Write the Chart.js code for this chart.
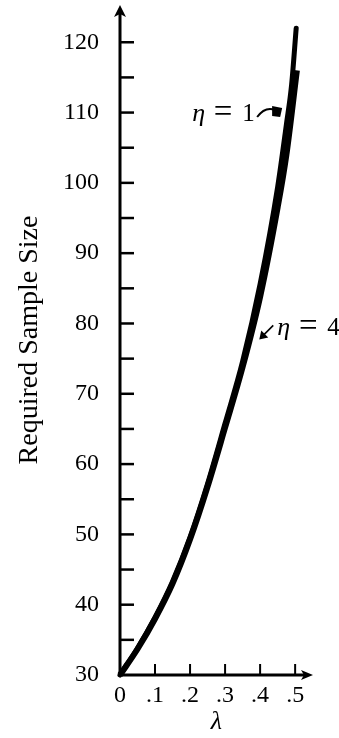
<!DOCTYPE html>
<html>
<head>
<meta charset="utf-8">
<script src="https://cdn.jsdelivr.net/npm/chart.js@4.4.0/dist/chart.umd.min.js"></script>
<style>
  html, body { margin: 0; padding: 0; background: #fff; }
  canvas { display: block; }
</style>
</head>
<body>
<canvas id="sampleChart" width="339" height="738"></canvas>
<script>
// values
const lambdaEta4 = [0, 0.05, 0.10, 0.15, 0.20, 0.25, 0.30, 0.35, 0.40, 0.45, 0.475, 0.505];
const sizeEta4   = [30, 33.7, 38.0, 43.0, 49.3, 56.8, 65.2, 73.8, 83.8, 96.5, 104.0, 116];
const lambdaEta1 = [0, 0.05, 0.10, 0.15, 0.20, 0.25, 0.30, 0.35, 0.40, 0.45, 0.475, 0.49, 0.503];
const sizeEta1   = [30, 33.8, 38.2, 43.3, 49.6, 57.2, 65.8, 74.6, 85.6, 99.4, 108.3, 114.0, 122];
const xTickValues = [0, 0.1, 0.2, 0.3, 0.4, 0.5];
const xTickLabels = ['0', '.1', '.2', '.3', '.4', '.5'];
const yTickValues = [30, 35, 40, 45, 50, 55, 60, 65, 70, 75, 80, 85, 90, 95, 100, 105, 110, 115, 120];

const serif = "'Liberation Serif', 'Times New Roman', serif";

function toPoints(xs, ys) {
  return xs.map((x, i) => ({ x: x, y: ys[i] }));
}

// axes with arrows and inward ticks, drawn from the scales
const axesPlugin = {
  id: 'axesPlugin',
  beforeDatasetsDraw(chart) {
    const ctx = chart.ctx;
    const { left, right, top, bottom } = chart.chartArea;
    const xs = chart.scales.x, ys = chart.scales.y;
    ctx.save();
    ctx.strokeStyle = '#000';
    ctx.fillStyle = '#000';
    ctx.lineWidth = 3;
    ctx.beginPath();
    ctx.moveTo(left, bottom + 1.5);
    ctx.lineTo(left, top + 8);
    ctx.moveTo(left - 1.5, bottom);
    ctx.lineTo(right - 8, bottom);
    ctx.stroke();

    // arrow heads
    ctx.beginPath();
    ctx.moveTo(left, top);
    ctx.lineTo(left - 6, top + 12);
    ctx.lineTo(left, top + 9);
    ctx.lineTo(left + 6, top + 12);
    ctx.closePath();
    ctx.fill();
    ctx.beginPath();
    ctx.moveTo(right, bottom);
    ctx.lineTo(right - 12, bottom - 5);
    ctx.lineTo(right - 9, bottom);
    ctx.lineTo(right - 12, bottom + 5);
    ctx.closePath();
    ctx.fill();

    ctx.lineWidth = 2.5;
    ys.ticks.forEach(t => {
      if (t.value <= ys.min) return;
      const py = ys.getPixelForValue(t.value);
      ctx.beginPath();
      ctx.moveTo(left, py);
      ctx.lineTo(left + 14, py);
      ctx.stroke();
    });
    ctx.lineWidth = 2;
    xs.ticks.forEach(t => {
      if (t.value <= xs.min) return;
      const px = xs.getPixelForValue(t.value);
      ctx.beginPath();
      ctx.moveTo(px, bottom);
      ctx.lineTo(px, bottom - 11);
      ctx.stroke();
    });
    ctx.restore();
  }
};

function drawEtaLabel(ctx, x, y, digit) {
  ctx.font = 'italic 26px ' + serif;
  ctx.textAlign = 'left';
  ctx.fillText('\u03B7', x, y);
  ctx.font = '33px ' + serif;
  ctx.textAlign = 'center';
  ctx.fillText('=', x + 31, y + 1);
  ctx.font = '25px ' + serif;
  ctx.textAlign = 'left';
  ctx.fillText(digit, x + 50, y);
}

const labelPlugin = {
  id: 'labelPlugin',
  afterDatasetsDraw(chart) {
    const ctx = chart.ctx;
    const xs = chart.scales.x, ys = chart.scales.y;
    ctx.save();
    ctx.fillStyle = '#000';
    ctx.strokeStyle = '#000';
    ctx.textBaseline = 'alphabetic';

    // eta = 1, curved arrow to the upper curve
    let ox = xs.getPixelForValue(0.206), oy = ys.getPixelForValue(108.8);
    drawEtaLabel(ctx, ox, oy, '1');
    ctx.lineWidth = 2;
    ctx.beginPath();
    ctx.moveTo(ox + 65, oy - 4);
    ctx.quadraticCurveTo(ox + 73, oy - 15, ox + 83, oy - 11);
    ctx.stroke();
    ctx.beginPath();
    ctx.moveTo(ox + 80, oy - 15);
    ctx.lineTo(ox + 90, oy - 13);
    ctx.lineTo(ox + 88, oy - 4);
    ctx.lineTo(ox + 80, oy - 5);
    ctx.closePath();
    ctx.fill();

    // eta = 4, short arrow to the lower curve
    ox = xs.getPixelForValue(0.449);
    oy = ys.getPixelForValue(78.3);
    drawEtaLabel(ctx, ox, oy, '4');
    ctx.lineWidth = 1.6;
    ctx.beginPath();
    ctx.moveTo(ox - 4, oy - 10);
    ctx.lineTo(ox - 14, oy);
    ctx.stroke();
    ctx.beginPath();
    ctx.moveTo(ox - 18, oy + 4);
    ctx.lineTo(ox - 16, oy - 5);
    ctx.lineTo(ox - 9, oy + 2);
    ctx.closePath();
    ctx.fill();
    ctx.restore();
  }
};

new Chart(document.getElementById('sampleChart'), {
  type: 'line',
  data: {
    datasets: [
      {
        label: '\u03B7 = 1',
        data: toPoints(lambdaEta1, sizeEta1),
        borderColor: '#000',
        borderWidth: 5,
        borderCapStyle: 'round',
        pointRadius: 0,
        cubicInterpolationMode: 'monotone',
        fill: false,
        clip: false
      },
      {
        label: '\u03B7 = 4',
        data: toPoints(lambdaEta4, sizeEta4),
        borderColor: '#000',
        borderWidth: 6,
        borderCapStyle: 'butt',
        pointRadius: 0,
        cubicInterpolationMode: 'monotone',
        fill: false,
        clip: false
      }
    ]
  },
  options: {
    responsive: false,
    animation: false,
    devicePixelRatio: 1,
    layout: { padding: { top: 5, right: 26, bottom: 0, left: 0 } },
    plugins: {
      legend: { display: false },
      tooltip: { enabled: false }
    },
    scales: {
      x: {
        type: 'linear',
        min: 0,
        max: 0.551,
        afterFit: s => {
          s.height = 63;
          s.paddingLeft = 0;
          s.paddingRight = 0;
        },
        afterBuildTicks: s => { s.ticks = xTickValues.map(v => ({ value: v })); },
        grid: { display: false, drawTicks: false },
        border: { display: false },
        ticks: {
          color: '#000',
          padding: 6,
          maxRotation: 0,
          autoSkip: false,
          font: { family: serif, size: 24 },
          callback: (v, i) => xTickLabels[i]
        },
        title: {
          display: true,
          text: '\u03BB',
          color: '#000',
          padding: { top: 0, bottom: 0 },
          font: { family: serif, size: 26, style: 'italic' }
        }
      },
      y: {
        type: 'linear',
        min: 30,
        max: 125.3,
        afterFit: s => {
          s.width = 120;
          s.paddingTop = 0;
          s.paddingBottom = 0;
        },
        afterBuildTicks: s => { s.ticks = yTickValues.map(v => ({ value: v })); },
        grid: { display: false, drawTicks: false },
        border: { display: false },
        ticks: {
          color: '#000',
          padding: 21,
          autoSkip: false,
          font: { family: serif, size: 24 },
          callback: v => (v % 10 === 0 ? String(v) : '')
        },
        title: {
          display: true,
          text: 'Required Sample Size',
          color: '#000',
          padding: { top: 13, bottom: 0 },
          font: { family: serif, size: 28 }
        }
      }
    }
  },
  plugins: [axesPlugin, labelPlugin]
});
</script>
</body>
</html>
